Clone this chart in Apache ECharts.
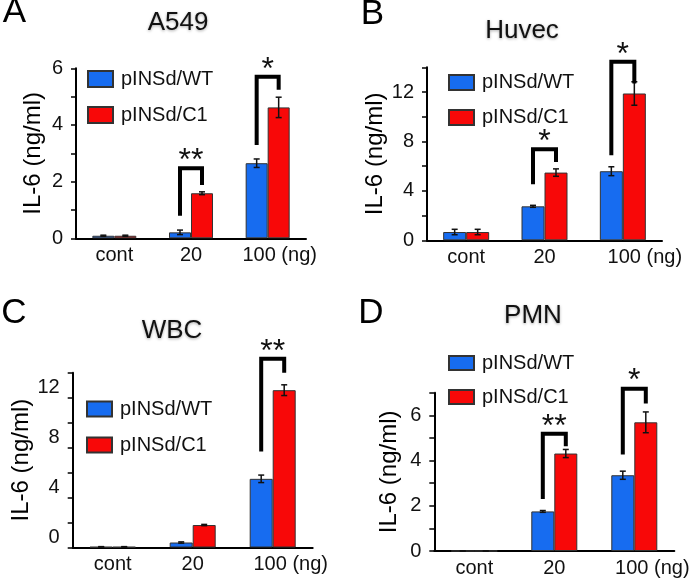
<!DOCTYPE html>
<html><head><meta charset="utf-8">
<script src="https://cdn.jsdelivr.net/npm/echarts@6/dist/echarts.min.js"></script>
<style>html,body{margin:0;padding:0;background:#fff}#c{width:693px;height:578px}</style>
</head><body><div id="c"></div>
<script>
// ---------- data ----------
const categories = ['cont', '20', '100 (ng)'];
const seriesNames = ['pINSd/WT', 'pINSd/C1'];
const panelTitles = ['A549', 'Huvec', 'WBC', 'PMN'];
const panelLetters = ['A', 'B', 'C', 'D'];
const yAxisName = 'IL-6 (ng/ml)';

// A549
const a549WT = [0.09, 0.21, 2.65];
const a549WTErr = [0.02, 0.08, 0.15];
const a549C1 = [0.09, 1.59, 4.62];
const a549C1Err = [0.02, 0.05, 0.36];
const a549Sig = [[1, 0.80, 2.47, 1.88, '**'], [2, 3.29, 5.70, 5.24, '*']];
// Huvec
const huvecWT = [0.67, 2.75, 5.59];
const huvecWTErr = [0.22, 0.08, 0.36];
const huvecC1 = [0.67, 5.48, 11.88];
const huvecC1Err = [0.22, 0.30, 0.95];
const huvecSig = [[1, 4.53, 7.37, 6.34, '*'], [2, 6.88, 14.44, 12.69, '*']];
// WBC
const wbcWT = [0.05, 0.40, 5.5];
const wbcWTErr = [0.02, 0.05, 0.30];
const wbcC1 = [0.05, 1.80, 12.6];
const wbcC1Err = [0.02, 0.05, 0.43];
const wbcSig = [[2, 7.69, 15.12, 13.99, '**']];
// PMN
const pmnWT = [0, 1.75, 3.35];
const pmnWTErr = [0, 0.04, 0.18];
const pmnC1 = [0, 4.31, 5.69];
const pmnC1Err = [0, 0.18, 0.46];
const pmnSig = [[1, 2.30, 5.18, 4.63, '**'], [2, 4.27, 7.18, 6.52, '*']];

// y axis ticks: [max, tickInterval, labelEvery]
const yTicksA = [6, 1, 2];
const yTicksB = [14, 2, 4];
const yTicksC = [14, 2, 4];
const yTicksD = [7, 1, 2];

// ---------- layout / style ----------
const FONT = '"Liberation Sans", Arial, Helvetica, sans-serif';
const BLUE = '#176cf0';
const RED = '#f80808';
const panels = [
  {wt: a549WT, wtE: a549WTErr, c1: a549C1, c1E: a549C1Err, sig: a549Sig, ticks: yTicksA,
   grid: {left: 76, top: 68.3, width: 230, height: 170}, barW: 22, nameGap: 31, labelShift: 24, labelVA: 'middle',
   legend: {left: 87, top: 69, gap: 16, h: 16},
   title: [178, 23], letter: [14.5, 12]},
  {wt: huvecWT, wtE: huvecWTErr, c1: huvecC1, c1E: huvecC1Err, sig: huvecSig, ticks: yTicksB,
   grid: {left: 427, top: 67.3, width: 235, height: 173}, barW: 23, nameGap: 32, labelShift: 44, labelVA: 'middle',
   legend: {left: 448, top: 72.5, gap: 15, h: 15},
   title: [522, 31], letter: [372.5, 14]},
  {wt: wbcWT, wtE: wbcWTErr, c1: wbcC1, c1E: wbcC1Err, sig: wbcSig, ticks: yTicksC,
   grid: {left: 72.7, top: 372.7, width: 240, height: 174.8}, barW: 23, nameGap: 39, labelShift: 36, labelVA: 'bottom',
   legend: {left: 86, top: 399, gap: 16, h: 15},
   title: [172, 331], letter: [14, 313]},
  {wt: pmnWT, wtE: pmnWTErr, c1: pmnC1, c1E: pmnC1Err, sig: pmnSig, ticks: yTicksD,
   grid: {left: 434.3, top: 392.7, width: 240, height: 160}, barW: 23, nameGap: 33, labelShift: 36, labelVA: 'middle',
   legend: {left: 448, top: 353, gap: 14, h: 14},
   title: [533, 316], letter: [371, 313]}
];

function errRender(sign, barW) {
  return function (params, api) {
    const i = api.value(0), v = api.value(1), e = api.value(2);
    const base = api.coord([i, v]);
    const x = base[0] + sign * barW / 2;
    const yt = api.coord([i, v + e])[1];
    const yb = api.coord([i, Math.max(0, v - e)])[1];
    const cap = 3;
    const st = {stroke: '#111', lineWidth: 1.5};
    return {type: 'group', children: [
      {type: 'line', shape: {x1: x, y1: yt, x2: x, y2: yb}, style: st},
      {type: 'line', shape: {x1: x - cap, y1: yt, x2: x + cap, y2: yt}, style: st},
      {type: 'line', shape: {x1: x - cap, y1: yb, x2: x + cap, y2: yb}, style: st}
    ]};
  };
}
function sigRender(list, barW) {
  return function (params, api) {
    const i = api.value(0);
    const c = api.coord([i, api.value(2)]);
    const xl = c[0] - barW / 2, xr = c[0] + barW / 2;
    const yl = api.coord([i, api.value(1)])[1];
    const yr = api.coord([i, api.value(3)])[1];
    const yt = c[1];
    return {type: 'group', children: [
      {type: 'polyline', shape: {points: [[xl, yl], [xl, yt], [xr, yt], [xr, yr]]},
       style: {stroke: '#000', lineWidth: 4, fill: 'none', lineJoin: 'miter', lineCap: 'butt'}},
      {type: 'text', x: (xl + xr) / 2, y: yt - 7,
       style: {text: list[params.dataIndex][4], fontSize: 32, fontFamily: FONT,
               textAlign: 'center', textVerticalAlign: 'middle', fill: '#111'}}
    ]};
  };
}

const option = {
  animation: false,
  textStyle: {fontFamily: FONT, color: '#000'},
  grid: [], xAxis: [], yAxis: [], series: [], legend: [], graphic: []
};

panels.forEach((p, k) => {
  option.grid.push(Object.assign({containLabel: false}, p.grid));
  option.xAxis.push({
    type: 'category', gridIndex: k,
    data: categories.map((c, j) => j === 2 ? {value: c, textStyle: {padding: [0, 0, 0, p.labelShift]}} : c),
    axisLine: {lineStyle: {color: '#000', width: 2}},
    axisTick: {length: 4, lineStyle: {color: '#000', width: 1.5}},
    axisLabel: {interval: 0, hideOverlap: false, fontSize: 20, color: '#111', margin: 7, fontFamily: FONT}
  });
  const [mx, iv, every] = p.ticks;
  option.yAxis.push({
    type: 'value', gridIndex: k, min: 0, max: mx, interval: iv,
    name: yAxisName, nameLocation: 'middle', nameGap: p.nameGap, nameRotate: 90,
    nameTextStyle: {fontSize: 24, color: '#000', fontFamily: FONT},
    splitLine: {show: false},
    axisLine: {show: true, lineStyle: {color: '#000', width: 2}},
    axisTick: {show: true, length: 5, lineStyle: {color: '#000', width: 1.5}},
    axisLabel: {fontSize: 20, color: '#111', margin: 13, fontFamily: FONT,
                verticalAlign: p.labelVA, lineHeight: 20,
                formatter: v => (Math.round(v) % every === 0 ? String(v) : '')}
  });
  const bstyle = col => ({color: col, borderColor: '#333', borderWidth: 1});
  option.series.push({
    type: 'bar', name: seriesNames[0], xAxisIndex: k, yAxisIndex: k, data: p.wt,
    barWidth: p.barW, barGap: '0%', itemStyle: bstyle(BLUE)
  });
  option.series.push({
    type: 'bar', name: seriesNames[1], xAxisIndex: k, yAxisIndex: k, data: p.c1,
    barWidth: p.barW, barGap: '0%', itemStyle: bstyle(RED)
  });
  option.series.push({
    type: 'custom', xAxisIndex: k, yAxisIndex: k, z: 5, silent: true,
    renderItem: errRender(-1, p.barW),
    data: p.wt.map((v, j) => [j, v, p.wtE[j]])
  });
  option.series.push({
    type: 'custom', xAxisIndex: k, yAxisIndex: k, z: 5, silent: true,
    renderItem: errRender(1, p.barW),
    data: p.c1.map((v, j) => [j, v, p.c1E[j]])
  });
  option.series.push({
    type: 'custom', xAxisIndex: k, yAxisIndex: k, z: 6, silent: true, clip: false,
    renderItem: sigRender(p.sig, p.barW),
    data: p.sig.map(r => [r[0], r[1], r[2], r[3]])
  });
  option.legend.push({
    left: p.legend.left, top: p.legend.top, orient: 'vertical', padding: 0,
    itemWidth: 25, itemHeight: p.legend.h, itemGap: p.legend.gap, icon: 'rect',
    data: seriesNames,
    textStyle: {fontSize: 20, color: '#111', fontFamily: FONT, lineHeight: p.legend.h, padding: [0, 0, 0, 3]}
  });
  option.graphic.push({
    type: 'text', x: p.title[0], y: p.title[1],
    style: {text: panelTitles[k], fontSize: 26, fontFamily: FONT, fill: '#111',
            textAlign: 'center', textVerticalAlign: 'middle',
            textShadowColor: 'rgba(0,0,0,0.35)', textShadowBlur: 3, textShadowOffsetY: 1}
  });
  option.graphic.push({
    type: 'text', x: p.letter[0], y: p.letter[1],
    style: {text: panelLetters[k], fontSize: 35, fontFamily: FONT, fill: '#000',
            textAlign: 'center', textVerticalAlign: 'middle'}
  });
});

const chart = echarts.init(document.getElementById('c'), null, {renderer: 'canvas'});
chart.setOption(option);
</script>
</body></html>
